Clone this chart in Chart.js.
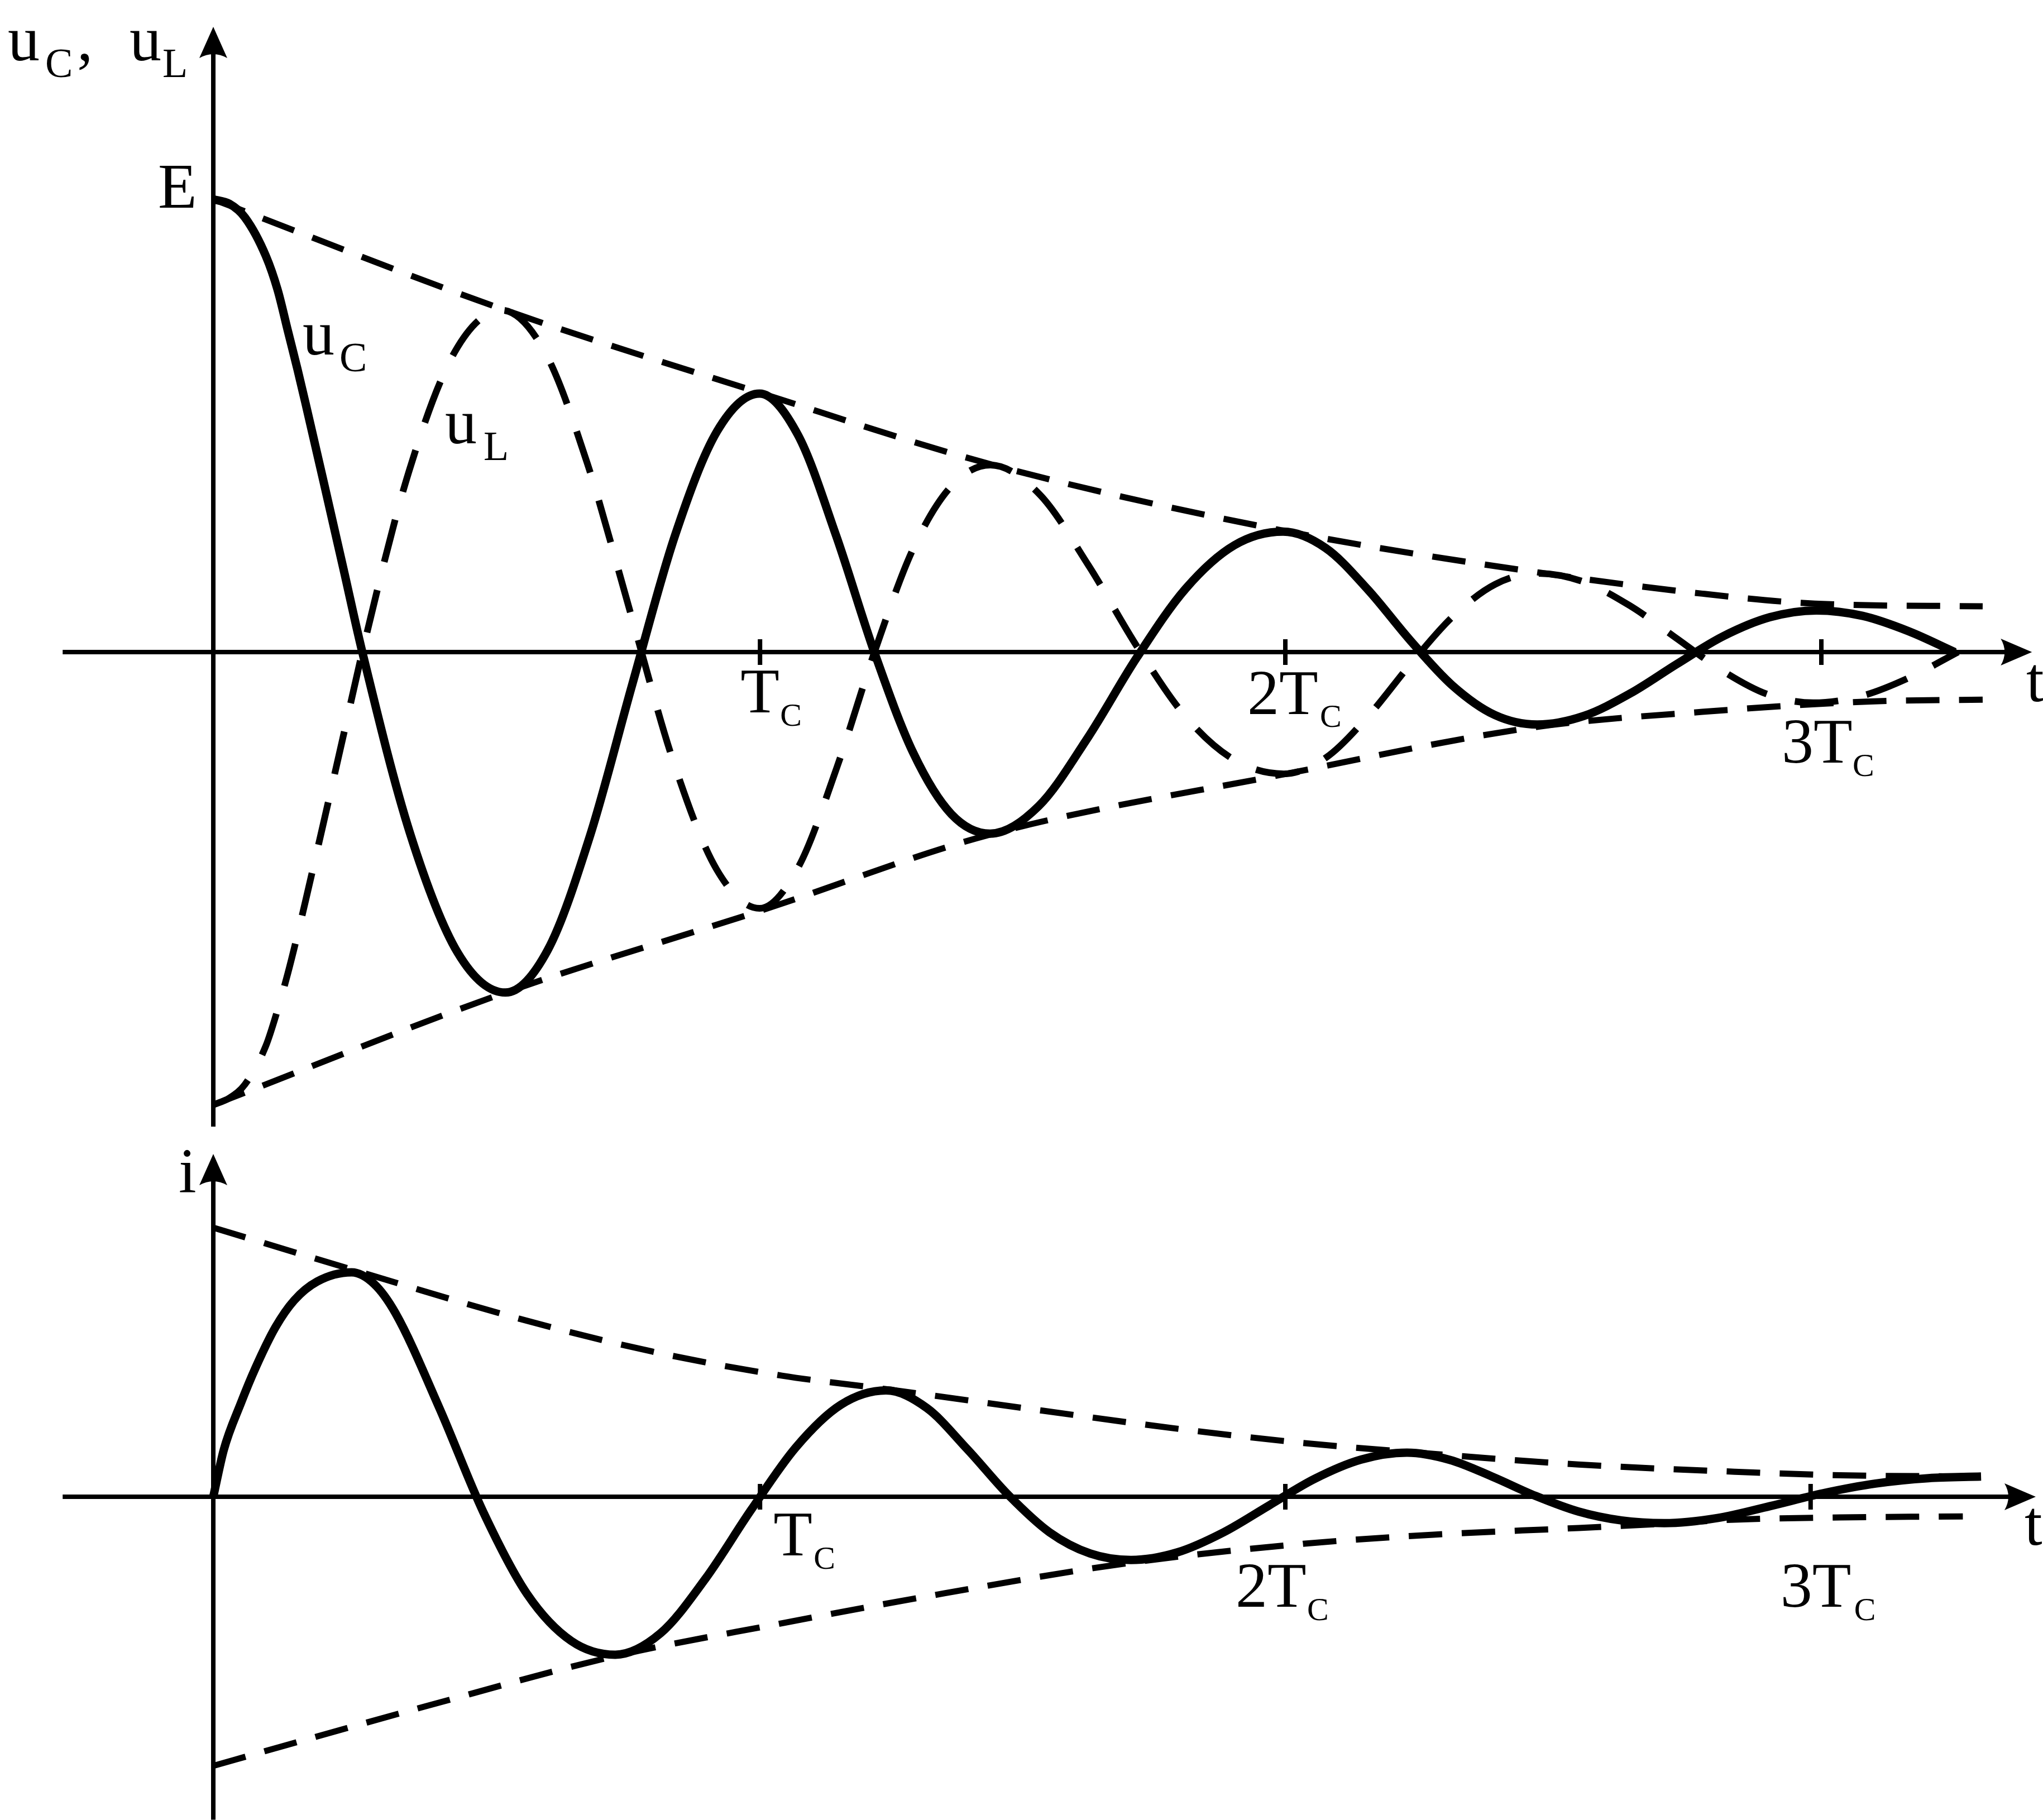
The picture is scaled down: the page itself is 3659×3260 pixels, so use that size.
<!DOCTYPE html>
<html>
<head>
<meta charset="utf-8">
<script src="https://cdn.jsdelivr.net/npm/chart.js@4.4.0/dist/chart.umd.min.js"></script>
<style>
  html, body { margin: 0; padding: 0; background: #fff; }
</style>
</head>
<body>
<canvas id="chart" width="3659" height="3260"></canvas>
<script>
// time is in units of T_C, voltages in units of E, current scaled to its starting envelope

// top panel: u_C (solid)
const ucTime = [0, 0.03, 0.059, 0.098, 0.12, 0.139, 0.157, 0.172, 0.208, 0.243, 0.278, 0.367, 0.456, 0.545,
  0.624, 0.703, 0.782, 0.861, 0.94, 1.019,
  1.091, 1.162, 1.234, 1.306, 1.377, 1.449,
  1.54, 1.631, 1.723, 1.814, 1.905, 1.996,
  2.075, 2.154, 2.233, 2.312, 2.391, 2.47,
  2.557, 2.644, 2.731, 2.817, 2.904, 2.991,
  3.077, 3.163, 3.249];
const ucValue = [1.0, 0.99, 0.96, 0.875, 0.80, 0.71, 0.625, 0.55, 0.365, 0.183, 0, -0.40, -0.664, -0.752,
  -0.658, -0.405, -0.07, 0.256, 0.488, 0.571,
  0.479, 0.257, -0.003, -0.223, -0.358, -0.401,
  -0.34, -0.19, -0.012, 0.14, 0.236, 0.266,
  0.23, 0.138, 0.026, -0.074, -0.139, -0.16,
  -0.141, -0.091, -0.026, 0.035, 0.077, 0.092,
  0.08, 0.046, 0];

// top panel: u_L (dashed)
const ulTime = [0, 0.03, 0.059, 0.098, 0.12, 0.139, 0.157, 0.172, 0.208, 0.243, 0.278, 0.365, 0.451, 0.538,
  0.618, 0.698, 0.779, 0.859, 0.939, 1.019,
  1.091, 1.163, 1.235, 1.306, 1.378, 1.45,
  1.541, 1.632, 1.724, 1.815, 1.906, 1.997,
  2.076, 2.155, 2.234, 2.313, 2.392, 2.471,
  2.557, 2.642, 2.728, 2.814, 2.899, 2.985,
  3.075, 3.165, 3.255];
const ulValue = [-1.0, -0.985, -0.955, -0.87, -0.79, -0.71, -0.625, -0.55, -0.365, -0.183, 0, 0.399, 0.664, 0.755,
  0.664, 0.416, 0.084, -0.244, -0.48, -0.566,
  -0.476, -0.256, 0.005, 0.229, 0.368, 0.413,
  0.349, 0.193, 0.011, -0.144, -0.239, -0.269,
  -0.233, -0.141, -0.026, 0.079, 0.15, 0.174,
  0.155, 0.103, 0.032, -0.04, -0.093, -0.112,
  -0.097, -0.056, 0];

// top panel envelopes
const topUpperTime = [0, 0.538, 1.019, 1.45, 1.997, 2.471, 2.778, 2.988, 3.301];
const topUpperValue = [1.0, 0.758, 0.573, 0.415, 0.268, 0.176, 0.129, 0.107, 0.101];
const topLowerTime = [0, 0.545, 1.019, 1.449, 1.997, 2.471, 2.778, 3.092, 3.301];
const topLowerValue = [-1.0, -0.752, -0.572, -0.403, -0.27, -0.165, -0.132, -0.109, -0.105];

// bottom panel: i (solid)
const iTime = [0, 0.0195, 0.0517, 0.079, 0.116, 0.151, 0.194, 0.258,
  0.3, 0.34, 0.422, 0.504, 0.586, 0.668, 0.75,
  0.834, 0.918, 1.003, 1.087, 1.171, 1.255,
  1.331, 1.407, 1.484, 1.56, 1.636, 1.712,
  1.798, 1.884, 1.97, 2.055, 2.141, 2.227,
  2.307, 2.387, 2.467, 2.547, 2.627, 2.707,
  2.806, 2.904, 3.003, 3.101, 3.2, 3.298];
const iValue = [0, 0.174, 0.349, 0.48, 0.63, 0.73, 0.80, 0.834,
  0.791, 0.682, 0.329, -0.058, -0.363, -0.536, -0.587,
  -0.508, -0.305, -0.05, 0.184, 0.342, 0.395,
  0.33, 0.176, 0.005, -0.132, -0.211, -0.235,
  -0.207, -0.133, -0.032, 0.067, 0.138, 0.164,
  0.137, 0.074, 0.003, -0.055, -0.088, -0.098,
  -0.079, -0.035, 0.013, 0.049, 0.069, 0.075];

// bottom panel envelopes
const botUpperTime = [0, 0.258, 0.574, 0.818, 1.061, 1.255, 1.547, 1.79, 2.033, 2.227, 2.547, 2.839, 3.035, 3.298];
const botUpperValue = [1.0, 0.845, 0.66, 0.54, 0.45, 0.40, 0.32, 0.255, 0.2, 0.167, 0.12, 0.093, 0.08, 0.075];
const botLowerTime = [0, 0.124, 0.403, 0.75, 1.061, 1.304, 1.712, 2.033, 2.276, 2.547, 2.707, 2.839, 3.035, 3.264];
const botLowerValue = [-1.0, -0.93, -0.775, -0.592, -0.47, -0.38, -0.245, -0.175, -0.141, -0.116, -0.1, -0.085, -0.077, -0.073];

// tick marks on the time axes
const topTicks = [1.02, 2.0, 3.0];
const botTicks = [1.02, 2.0, 2.98];
const tickLabels = ['T', '2T', '3T'];
const tickSub = 'C';

// layout (pixels)
const W = 3659, H = 3260;
const originX = 382, pxPerT = 960;
const topAxisY = 1168, pxPerE = 811;
const botAxisY = 2681, pxPerI = 482;

const FONT = '"Liberation Serif", "Times New Roman", serif';

function pts(ts, vs) {
  return ts.map((t, k) => ({ x: t, y: vs[k] }));
}

function curve(ts, vs, axis, width, dash) {
  return {
    data: pts(ts, vs),
    yAxisID: axis,
    borderColor: '#000',
    borderWidth: width,
    borderDash: dash,
    borderCapStyle: 'butt',
    borderJoinStyle: 'round',
    pointRadius: 0,
    cubicInterpolationMode: 'monotone',
    fill: false,
    clip: false
  };
}

function arrowUp(ctx, x, tipY) {
  ctx.beginPath();
  ctx.moveTo(x, tipY);
  ctx.lineTo(x + 25, tipY + 56);
  ctx.quadraticCurveTo(x, tipY + 42, x - 25, tipY + 56);
  ctx.closePath();
  ctx.fill();
}

function arrowRight(ctx, tipX, y) {
  ctx.beginPath();
  ctx.moveTo(tipX, y);
  ctx.lineTo(tipX - 56, y - 24);
  ctx.quadraticCurveTo(tipX - 42, y, tipX - 56, y + 24);
  ctx.closePath();
  ctx.fill();
}

function drawAxes(ctx, xs, ys, yLow, yHigh, xLeft, xTip, ticks) {
  const ox = xs.getPixelForValue(0), oy = ys.getPixelForValue(0);
  const top = ys.getPixelForValue(yHigh), bot = ys.getPixelForValue(yLow);
  const left = xs.getPixelForValue(xLeft), right = xs.getPixelForValue(xTip);
  ctx.lineWidth = 8;
  ctx.lineCap = 'butt';
  ctx.beginPath();
  ctx.moveTo(ox, bot);
  ctx.lineTo(ox, top + 46);
  ctx.moveTo(left, oy);
  ctx.lineTo(right - 46, oy);
  ticks.forEach(t => {
    const tx = xs.getPixelForValue(t);
    ctx.moveTo(tx, oy - 23);
    ctx.lineTo(tx, oy + 23);
  });
  ctx.stroke();
  arrowUp(ctx, ox, top);
  arrowRight(ctx, right, oy);
}

function txt(ctx, s, size, x, y) {
  ctx.font = size + 'px ' + FONT;
  ctx.fillText(s, x, y);
}

// label offsets from each tick: [main dx, main dy, sub dx, sub dy]
const topTickOffsets = [[-35, 108, 36, 132], [-68, 111, 62, 134], [-71, 198, 56, 222]];
const botTickOffsets = [[24, 105, 96, 129], [-89, 197, 39, 221], [-54, 197, 78, 221]];

const axesPlugin = {
  id: 'axes',
  afterDatasetsDraw(chart) {
    const { ctx, scales } = chart;
    const xs = scales.x, yt = scales.yTop, yb = scales.yBot;
    ctx.save();
    ctx.fillStyle = '#000';
    ctx.strokeStyle = '#000';
    ctx.textBaseline = 'alphabetic';

    drawAxes(ctx, xs, yt, -1.048, 1.381, -0.281, 3.393, topTicks);
    drawAxes(ctx, xs, yb, -1.2, 1.274, -0.281, 3.40, botTicks);

    // top panel texts
    let ox = xs.getPixelForValue(0), oy = yt.getPixelForValue(0);
    txt(ctx, 'u', 114, ox - 368, oy - 1060);
    txt(ctx, 'C', 74, ox - 301, oy - 1030);
    txt(ctx, ',', 114, ox - 244, oy - 1060);
    txt(ctx, 'u', 114, ox - 150, oy - 1060);
    txt(ctx, 'L', 74, ox - 91, oy - 1030);
    txt(ctx, 'E', 114, ox - 99, oy - 796);
    txt(ctx, 'u', 114, ox + 160, oy - 533);
    txt(ctx, 'C', 74, ox + 226, oy - 503);
    txt(ctx, 'u', 114, ox + 415, oy - 374);
    txt(ctx, 'L', 74, ox + 484, oy - 344);
    topTicks.forEach((t, k) => {
      const tx = xs.getPixelForValue(t), o = topTickOffsets[k];
      txt(ctx, tickLabels[k], 114, tx + o[0], oy + o[1]);
      txt(ctx, tickSub, 58, tx + o[2], oy + o[3]);
    });
    txt(ctx, 't', 114, ox + 3247, oy + 88);

    // bottom panel texts
    oy = yb.getPixelForValue(0);
    txt(ctx, 'i', 114, ox - 62, oy - 545);
    botTicks.forEach((t, k) => {
      const tx = xs.getPixelForValue(t), o = botTickOffsets[k];
      txt(ctx, tickLabels[k], 114, tx + o[0], oy + o[1]);
      txt(ctx, tickSub, 58, tx + o[2], oy + o[3]);
    });
    txt(ctx, 't', 114, ox + 3244, oy + 86);
    ctx.restore();
  }
};

const envDash = [60, 35];

new Chart(document.getElementById('chart').getContext('2d'), {
  type: 'line',
  data: {
    datasets: [
      curve(topUpperTime, topUpperValue, 'yTop', 11, envDash),
      curve(topLowerTime, topLowerValue, 'yTop', 11, envDash),
      curve(ulTime, ulValue, 'yTop', 12, [78, 52]),
      curve(ucTime, ucValue, 'yTop', 15, []),
      curve(botUpperTime, botUpperValue, 'yBot', 11, envDash),
      curve(botLowerTime, botLowerValue, 'yBot', 11, envDash),
      curve(iTime, iValue, 'yBot', 15, [])
    ]
  },
  options: {
    responsive: false,
    animation: false,
    devicePixelRatio: 1,
    events: [],
    layout: { padding: 0 },
    plugins: { legend: { display: false }, tooltip: { enabled: false } },
    scales: {
      x: { type: 'linear', display: false, min: -originX / pxPerT, max: (W - originX) / pxPerT },
      yTop: { type: 'linear', display: false, min: (topAxisY - H) / pxPerE, max: topAxisY / pxPerE },
      yBot: { type: 'linear', display: false, min: (botAxisY - H) / pxPerI, max: botAxisY / pxPerI }
    }
  },
  plugins: [axesPlugin]
});
</script>
</body>
</html>
